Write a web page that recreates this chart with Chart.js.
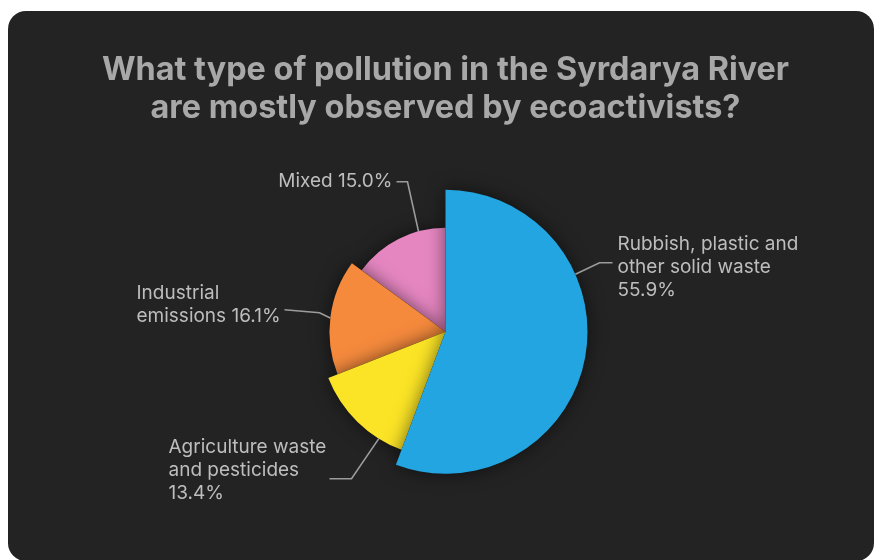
<!DOCTYPE html>
<html>
<head>
<meta charset="utf-8">
<script src="https://cdn.jsdelivr.net/npm/chart.js@4.4.1/dist/chart.umd.min.js"></script>
<style>
  html, body { margin: 0; padding: 0; background: #ffffff; }
  body { width: 875px; height: 560px; position: relative; overflow: hidden; }
  .card {
    position: absolute; left: 8px; top: 11px; width: 866px; height: 550px;
    background: #232323; border-radius: 18px;
  }
  #chart { position: absolute; left: 0; top: 0; }
</style>
</head>
<body>
<div class="card"></div>
<canvas id="chart" width="875" height="560"></canvas>
<script>
// Survey answers: share of ecoactivists naming each type of pollution (%)
const categories = [
  ['Rubbish, plastic and', 'other solid waste'],
  ['Agriculture waste', 'and pesticides'],
  ['Industrial', 'emissions'],
  ['Mixed']
];
const shares = [55.9, 13.4, 16.1, 15.0];
const sliceColors = ['#22a5e0', '#fbe426', '#f58a3d', '#e586c1'];

const titleLines = [
  'What type of pollution in the Syrdarya River',
  'are mostly observed by ecoactivists?'
];

// Each slice is drawn at its own fraction of the full radius
const radiusScale = [1, 0.887, 0.817, 0.732];

// Callout layout, offsets relative to the pie centre
const callouts = [
  { frac: 0.33, elbow: [154, -69], end: [167, -69], text: [172, -87], align: 'left', valueOwnLine: true },
  { frac: 0.24, elbow: [-94, 147], end: [-116, 147], text: [-277, 116], align: 'left', valueOwnLine: true },
  { frac: 0.49, elbow: [-126, -19], end: [-161, -22], text: [-309, -38], align: 'left', valueOwnLine: false },
  { frac: 0.72, elbow: [-38, -150], end: [-49, -150], text: [-53, -150], align: 'right', valueOwnLine: false }
];

const staggeredRadius = {
  id: 'staggeredRadius',
  afterUpdate(chart) {
    const meta = chart.getDatasetMeta(0);
    meta.data.forEach((arc, i) => {
      arc.outerRadius = arc.outerRadius * radiusScale[i];
    });
  }
};

// Larger slices sit above the smaller ones and cast a soft shadow on them
const layeredSlices = {
  id: 'layeredSlices',
  beforeDatasetDraw(chart, args) {
    const ctx = chart.ctx;
    const arcs = args.meta.data;
    for (let i = arcs.length - 1; i >= 0; i--) {
      ctx.save();
      ctx.shadowColor = 'rgba(0, 0, 0, 0.55)';
      ctx.shadowBlur = 18;
      arcs[i].draw(ctx);
      ctx.restore();
    }
    return false;
  }
};

const calloutLabels = {
  id: 'calloutLabels',
  afterDraw(chart) {
    const ctx = chart.ctx;
    const arcs = chart.getDatasetMeta(0).data;
    ctx.save();
    arcs.forEach((arc, i) => {
      const c = callouts[i];
      const cx = arc.x, cy = arc.y;
      const a = arc.startAngle + (arc.endAngle - arc.startAngle) * c.frac;
      const ax = cx + arc.outerRadius * Math.cos(a);
      const ay = cy + arc.outerRadius * Math.sin(a);

      ctx.strokeStyle = '#9c9c9c';
      ctx.lineWidth = 1.6;
      ctx.beginPath();
      ctx.moveTo(ax, ay);
      ctx.lineTo(cx + c.elbow[0], cy + c.elbow[1]);
      ctx.lineTo(cx + c.end[0], cy + c.end[1]);
      ctx.stroke();

      const value = shares[i].toFixed(1) + '%';
      const lines = categories[i].slice();
      if (c.valueOwnLine) lines.push(value);
      else lines[lines.length - 1] += ' ' + value;

      ctx.fillStyle = '#bdbdbd';
      ctx.font = '19px Inter, "Noto Sans", sans-serif';
      ctx.textAlign = c.align;
      ctx.textBaseline = 'middle';
      lines.forEach((line, k) => {
        ctx.fillText(line, cx + c.text[0], cy + c.text[1] + k * 23);
      });
    });
    ctx.restore();
  }
};

new Chart(document.getElementById('chart'), {
  type: 'pie',
  data: {
    labels: categories,
    datasets: [{
      data: shares,
      backgroundColor: sliceColors,
      borderWidth: 0,
      radius: 142,
      clip: false
    }]
  },
  options: {
    responsive: false,
    animation: false,
    events: [],
    layout: { padding: { left: 16, right: 0, top: 0, bottom: 33 } },
    plugins: {
      legend: { display: false },
      tooltip: { enabled: false },
      title: {
        display: true,
        text: titleLines,
        color: '#a8a8a8',
        font: { family: 'Inter, "Noto Sans", sans-serif', weight: 'bold', size: 32.4, lineHeight: 1.18 },
        padding: { top: 51, bottom: 9 }
      }
    }
  },
  plugins: [staggeredRadius, layeredSlices, calloutLabels]
});
</script>
</body>
</html>
